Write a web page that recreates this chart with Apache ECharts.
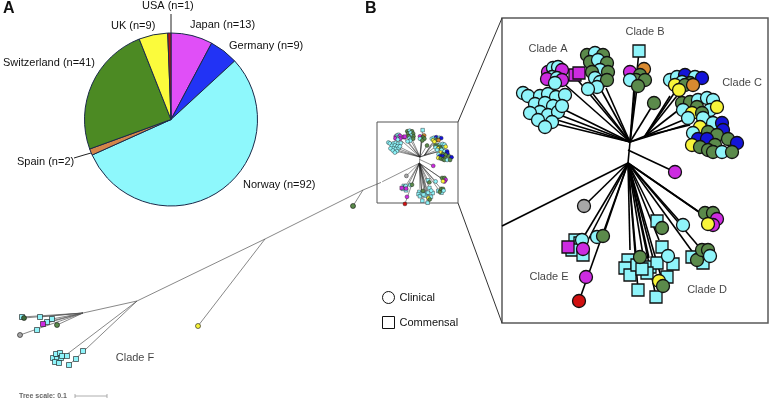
<!DOCTYPE html>
<html><head><meta charset="utf-8">
<script src="https://cdn.jsdelivr.net/npm/echarts@6/dist/echarts.min.js"></script>
<style>html,body{margin:0;padding:0;background:#fff}#c{width:771px;height:400px}</style>
</head><body><div id="c"></div>
<script>
// ---------- DATA ----------
const countries = ['Japan','Germany','Norway','Spain','Switzerland','UK','USA'];
const counts    = [13, 9, 92, 2, 41, 9, 1];

// overview tree (layout units of the overview panel)
const overviewEdges = [
  [382,62,363,70],[363,70,353,86],[363,70,265,119],[265,119,198,206],[265,119,137,181],
  [137,181,83,193],[83,193,22,197],[83,193,24,198],[83,193,40,197],[83,193,52,199],
  [83,193,47,202],[83,193,43,204],[83,193,57,205],[83,193,20,215],
  [137,181,62,238],[137,181,69,245]
];
const overviewCommensal = [
  [22,197,'cy'],[40,197,'cy'],[52,199,'cy'],[47,202,'cy'],[37,210,'cy'],[43,204,'mg'],
  [53,238,'cy'],[56,234,'cy'],[60,233,'cy'],[57,239,'cy'],[61,238,'cy'],[55,242,'cy'],
  [59,243,'cy'],[62,236,'cy'],[67,236,'cy'],[83,231,'cy'],[76,239,'cy'],[69,245,'cy']
];
const overviewClinical = [
  [24,198,'dg'],[57,205,'gr'],[20,215,'gy'],[353,86,'gr'],[198,206,'ye']
];

// detailed tree (layout units of the zoomed panel)
const detailEdges = [
  [128,124,126,145],[126,145,0,208],
  [128,124,63,92],[128,124,58,97],[128,124,52,101],[128,124,46,104],
  [128,124,60,64],[128,124,74,60],
  [128,124,98,70],[128,124,88,72],[128,124,104,70],
  [128,124,132,70],[128,124,135,70],[128,124,137,33],
  [128,124,152,85],
  [128,124,143,118],[143,118,173,74],[143,118,178,74],[143,118,168,78],
  [143,118,183,87],[143,118,186,100],[143,118,188,107],[128,124,190,105],
  [126,132,173,154],
  [126,145,82,188],[126,145,81,220],[126,145,84,226],
  [126,145,101,218],[126,145,77,283],
  [126,145,128,232],[126,145,134,237],[126,145,141,237],[126,145,147,240],[126,145,152,244],
  [126,145,157,222],[126,145,155,203],[126,145,181,207],[126,145,203,198],[126,145,207,201],
  [126,145,198,230],[126,145,192,236],[126,145,136,272],[126,145,154,279],[126,145,160,262]
];
const detailCommensal = [
  [73,57,'mg'],[77,55,'mg'],
  [137,33,'cy'],
  [73,222,'cy'],[78,225,'cy'],[70,232,'cy'],[81,237,'cy'],[66,229,'mg'],
  [155,203,'cy'],
  [126,242,'cy'],[123,250,'cy'],[128,257,'cy'],[135,247,'cy'],[148,249,'cy'],[155,245,'cy'],
  [160,229,'cy'],[171,246,'cy'],[165,259,'cy'],[136,272,'cy'],[154,279,'cy'],[145,255,'cy'],
  [140,251,'cy'],[190,239,'cy'],[201,245,'cy']
];
const detailClinical = [
  // clade A (left group)
  [21,75,'cy'],[26,78,'cy'],[38,78,'cy'],[46,76,'cy'],[54,79,'cy'],[63,77,'cy'],[33,86,'cy'],
  [43,85,'cy'],[51,88,'cy'],[38,94,'cy'],[46,97,'cy'],[56,94,'cy'],[28,95,'cy'],[36,102,'cy'],
  [50,104,'cy'],[43,109,'cy'],[60,88,'cy'],
  // clade A (upper group)
  [46,54,'mg'],[51,50,'cy'],[56,49,'cy'],[60,52,'mg'],[50,59,'cy'],[45,61,'mg'],[55,60,'cy'],
  [60,62,'mg'],[53,65,'cy'],
  // green/cyan group
  [85,37,'gr'],[93,35,'cy'],[101,37,'gr'],[88,44,'gr'],[96,42,'cy'],[105,45,'gr'],[98,52,'cy'],
  [90,54,'gr'],[93,60,'cy'],[106,54,'gr'],[98,64,'cy'],[105,62,'gr'],[95,69,'cy'],[86,71,'cy'],
  // clade B
  [128,54,'mg'],[142,51,'or'],[138,57,'gr'],[134,62,'gr'],[128,62,'cy'],[143,62,'gr'],[136,68,'gr'],
  [152,85,'gr'],
  // clade C (top group)
  [168,62,'cy'],[175,59,'cy'],[183,57,'bl'],[193,59,'cy'],[200,60,'bl'],[180,64,'cy'],[188,65,'gr'],
  [173,67,'ye'],[183,67,'gr'],[191,67,'or'],[177,72,'ye'],
  // clade C (main group)
  [180,85,'gr'],[188,84,'gr'],[196,82,'cy'],[205,80,'cy'],[211,82,'cy'],[181,92,'cy'],[195,89,'gr'],
  [208,92,'cy'],[215,89,'ye'],[190,95,'ye'],[200,95,'gr'],[186,100,'cy'],[201,100,'cy'],
  [211,105,'cy'],[220,105,'bl'],[198,109,'ye'],[221,112,'bl'],[191,115,'cy'],[206,114,'gr'],
  [215,117,'gr'],[226,121,'gr'],[196,121,'bl'],[205,121,'bl'],[235,125,'bl'],[190,127,'ye'],
  [198,129,'gr'],[213,127,'gr'],[206,132,'gr'],[211,134,'gr'],[220,134,'cy'],[230,134,'gr'],
  [173,154,'mg'],
  // lower part
  [82,188,'gy'],
  [80,222,'cy'],[81,231,'mg'],[95,219,'cy'],[101,218,'gr'],[84,259,'mg'],[77,283,'rd'],
  [160,210,'gr'],[181,207,'cy'],
  [203,195,'gr'],[211,195,'gr'],[215,201,'mg'],[211,207,'mg'],[206,206,'ye'],
  [195,242,'gr'],[200,232,'gr'],[206,232,'gr'],[208,238,'cy'],
  [138,239,'gr'],[166,238,'cy'],[157,263,'ye'],[161,268,'gr']
];
const cladeNames  = ['Clade A','Clade B','Clade C','Clade E','Clade D'];
const cladeAnchor = [[46,31],[143,14],[240,65],[47,259],[205,272]];
const overviewCladeName = ['Clade F'];
const overviewCladeAnchor = [[135,238]];

// ---------- STYLES / LAYOUT ----------
const pieColors = ['#e04ff7','#2233f5','#8ef8fc','#d4844a','#4c8a23','#fbfb3c','#b4141c'];
const pieLabelPos = [[190,25],[229,46],[243,185],[17,162],[3,63],[111,26],[142,6]];
const pieLabelLines = {3:[[91,153],[84,155],[74,158]], 6:[[171,33],[171,24],[171,14]]};
const C = {cy:'#8ff4fa', gr:'#5b8a4b', dg:'#3f6b3a', mg:'#cc2be0', bl:'#1414d8', ye:'#f8f43a',
           or:'#d98a30', rd:'#d01010', gy:'#a6a6a6'};
const FONT = 'Liberation Sans, Arial, Helvetica, sans-serif';

function pts(arr){ return arr.map(d => ({value:[d[0],d[1]], itemStyle:{color:C[d[2]]}})); }
function edges(arr){ return arr.map(e => ({coords:[[e[0],e[1]],[e[2],e[3]]]})); }

const chart = echarts.init(document.getElementById('c'), null, {renderer:'canvas'});

const grids = [
  {left:0, top:120, width:380, height:280, show:false},
  {left:502, top:18, width:266, height:305, show:true, borderColor:'#5a5a5a', borderWidth:1.5, backgroundColor:'transparent'},
  {left:382.2, top:120.4, width:78.5, height:90, show:false}
];
const axX = [[0,380],[0,266],[0,266]];
const axY = [[0,280],[0,305],[0,305]];

function lineSeries(gi, data, color, width){
  return {type:'lines', coordinateSystem:'cartesian2d', xAxisIndex:gi, yAxisIndex:gi,
    data:edges(data), silent:true, z:2, lineStyle:{color:color, width:width, opacity:1, curveness:0}};
}
function ptSeries(gi, name, symbol, data, size, bw){
  return {type:'scatter', name:name, xAxisIndex:gi, yAxisIndex:gi, symbol:symbol, symbolSize:size,
    data:pts(data), silent:true, z:3,
    itemStyle:{color:'#fff', borderColor:'#111', borderWidth:bw, opacity:1}};
}
function textSeries(gi, names, anchors){
  return {type:'scatter', xAxisIndex:gi, yAxisIndex:gi, symbolSize:0, silent:true, z:4,
    data:names.map((n,i)=>({name:n, value:anchors[i]})),
    label:{show:true, position:'inside', formatter:'{b}', color:'#111', fontSize:11, fontFamily:FONT}};
}

const option = {
  animation:false,
  backgroundColor:'#fff',
  grid:grids,
  xAxis:grids.map((g,i)=>({type:'value', gridIndex:i, min:axX[i][0], max:axX[i][1], show:false})),
  yAxis:grids.map((g,i)=>({type:'value', gridIndex:i, min:axY[i][0], max:axY[i][1], inverse:true, show:false})),
  legend:{
    data:[{name:'Clinical', icon:'circle'},{name:'Commensal', icon:'rect'}],
    orient:'vertical', left:382, top:291, itemWidth:12, itemHeight:12, itemGap:12, padding:0,
    selectedMode:false,
    itemStyle:{color:'#fff', borderColor:'#111', borderWidth:1},
    textStyle:{fontSize:11, fontFamily:FONT, color:'#111'}
  },
  graphic:[
    {type:'text', left:3, top:1, style:{text:'A', font:'bold 16px '+FONT, fill:'#111'}},
    {type:'text', left:365, top:1, style:{text:'B', font:'bold 16px '+FONT, fill:'#111'}},
    {type:'rect', shape:{x:377, y:122, width:81, height:81}, style:{fill:'none', stroke:'#555', lineWidth:1}, z:1},
    {type:'line', shape:{x1:458, y1:122, x2:502, y2:18}, style:{stroke:'#333', lineWidth:1}},
    {type:'line', shape:{x1:458, y1:203, x2:502, y2:323}, style:{stroke:'#333', lineWidth:1}},
    {type:'text', x:19, y:396, style:{text:'Tree scale: 0.1', font:'bold 7px '+FONT, fill:'#666', verticalAlign:'middle'}},
    {type:'line', shape:{x1:75, y1:396, x2:107, y2:396}, style:{stroke:'#999', lineWidth:0.8}},
    {type:'line', shape:{x1:75, y1:394, x2:75, y2:398}, style:{stroke:'#999', lineWidth:0.8}},
    {type:'line', shape:{x1:107, y1:394, x2:107, y2:398}, style:{stroke:'#999', lineWidth:0.8}}
  ],
  series:[
    {type:'pie', center:[171,119.5], radius:86.5, startAngle:90, clockwise:true, silent:true,
     itemStyle:{borderColor:'#1a2a4a', borderWidth:1},
     label:{show:true, position:'outside', formatter:'{b} (n={c})', fontSize:11, fontFamily:FONT, color:'#111',
            overflow:'none', bleedMargin:0},
     labelLine:{show:false, lineStyle:{color:'#222', width:1}},
     labelLayout:function(p){
       const pos = pieLabelPos[p.dataIndex];
       const r = {x:pos[0], y:pos[1], align:'left', verticalAlign:'middle'};
       if (pieLabelLines[p.dataIndex]) r.labelLinePoints = pieLabelLines[p.dataIndex];
       return r;
     },
     data:countries.map((n,i)=>({name:n, value:counts[i], itemStyle:{color:pieColors[i]},
        labelLine:{show: !!pieLabelLines[i]}}))
    },
    lineSeries(0, overviewEdges, '#555', 0.7),
    ptSeries(0, 'Commensal', 'rect', overviewCommensal, 5, 0.6),
    ptSeries(0, 'Clinical', 'circle', overviewClinical, 5, 0.6),
    lineSeries(1, detailEdges, '#000', 1.6),
    ptSeries(1, 'Commensal', 'rect', detailCommensal, 12, 1.3),
    ptSeries(1, 'Clinical', 'circle', detailClinical, 13, 1.3),
    lineSeries(2, detailEdges, '#222', 0.5),
    ptSeries(2, 'Commensal', 'rect', detailCommensal, 3.6, 0.4),
    ptSeries(2, 'Clinical', 'circle', detailClinical, 3.9, 0.4),
    textSeries(1, cladeNames, cladeAnchor),
    textSeries(0, overviewCladeName, overviewCladeAnchor)
  ]
};
chart.setOption(option);
</script></body></html>
